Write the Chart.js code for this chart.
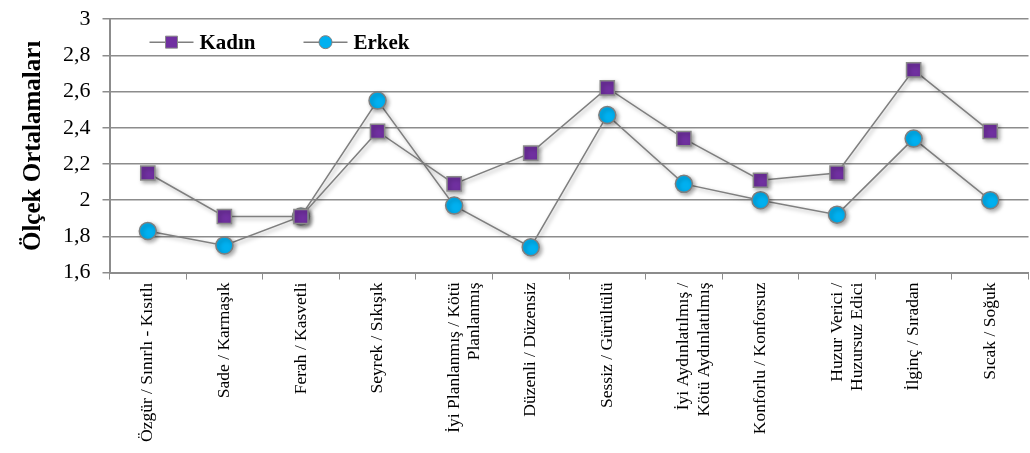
<!DOCTYPE html>
<html>
<head>
<meta charset="utf-8">
<script src="https://cdn.jsdelivr.net/npm/chart.js@4/dist/chart.umd.min.js"></script>
<style>
  html, body { margin: 0; padding: 0; background: #fff; overflow: hidden; }
  #wrap { width: 1040px; height: 453px; }
</style>
</head>
<body>
<div id="wrap"><canvas id="lineChart"></canvas></div>
<script>
// Categories (x axis)
const categories = [
    'Özgür / Sınırlı - Kısıtlı',
    'Sade / Karmaşık',
    'Ferah / Kasvetli',
    'Seyrek / Sıkışık',
    ['İyi Planlanmış / Kötü', 'Planlanmış'],
    'Düzenli / Düzensiz',
    'Sessiz / Gürültülü',
    ['İyi Aydınlatılmış /', 'Kötü Aydınlatılmış'],
    'Konforlu / Konforsuz',
    ['Huzur Verici /', 'Huzursuz Edici'],
    'İlginç / Sıradan',
    'Sıcak / Soğuk'
];

// Series values
const kadin = [2.15, 1.91, 1.91, 2.38, 2.09, 2.26, 2.62, 2.34, 2.11, 2.15, 2.72, 2.38];
const erkek = [1.83, 1.75, 1.91, 2.55, 1.97, 1.74, 2.47, 2.09, 2.00, 1.92, 2.34, 2.00];

// Y axis range
const yMin = 1.6;
const yMax = 3;
const yStep = 0.2;

const serif = "'Liberation Serif', 'Times New Roman', serif";
const gridGray = '#8c8c8c';

// soft shadow under lines and markers
const shadowPlugin = {
    id: 'shadow',
    beforeDatasetsDraw(chart) {
        const c = chart.ctx;
        c.save();
        c.shadowColor = 'rgba(0,0,0,0.35)';
        c.shadowBlur = 4;
        c.shadowOffsetX = 2;
        c.shadowOffsetY = 2;
    },
    afterDatasetsDraw(chart) {
        chart.ctx.restore();
    }
};

// legend drawn inside the plot area: line + marker + bold label
const insideLegend = {
    id: 'insideLegend',
    afterDraw(chart) {
        const c = chart.ctx;
        const area = chart.chartArea;
        const y = area.top + 23;
        let x = area.left + 40;
        chart.data.datasets.forEach(ds => {
            c.save();
            c.strokeStyle = ds.borderColor;
            c.lineWidth = 1.5;
            c.beginPath();
            c.moveTo(x, y);
            c.lineTo(x + 44, y);
            c.stroke();
            c.fillStyle = ds.pointBackgroundColor;
            c.strokeStyle = ds.pointBorderColor;
            c.lineWidth = 1;
            c.beginPath();
            if (ds.pointStyle === 'rect') {
                c.rect(x + 16, y - 6, 12, 12);
            } else {
                c.arc(x + 22, y, 6.5, 0, Math.PI * 2);
            }
            c.fill();
            c.stroke();
            c.fillStyle = '#000';
            c.font = 'bold 21px ' + serif;
            c.textBaseline = 'middle';
            c.fillText(ds.label, x + 50, y + 1);
            c.restore();
            x += 154;
        });
    }
};

const data = {
    labels: categories,
    datasets: [
        {
            label: 'Kadın',
            data: kadin,
            borderColor: '#7f7f7f',
            borderWidth: 1.5,
            pointStyle: 'rect',
            pointRadius: 10,
            pointBackgroundColor: '#7030a0',
            pointBorderColor: '#8a8a8a',
            pointBorderWidth: 1.5,
            tension: 0
        },
        {
            label: 'Erkek',
            data: erkek,
            borderColor: '#7f7f7f',
            borderWidth: 1.5,
            pointStyle: 'circle',
            pointRadius: 8.5,
            pointBackgroundColor: '#00b0f0',
            pointBorderColor: '#7f7f7f',
            pointBorderWidth: 1.5,
            tension: 0
        }
    ]
};

const config = {
    type: 'line',
    data: data,
    options: {
        responsive: true,
        maintainAspectRatio: false,
        animation: false,
        layout: { padding: { top: 0, right: 0, left: 15, bottom: 8 } },
        plugins: {
            legend: { display: false },
            tooltip: { enabled: false }
        },
        scales: {
            x: {
                offset: true,
                grid: {
                    display: true,
                    drawOnChartArea: false,
                    offset: true,
                    color: gridGray,
                    tickLength: 7,
                    lineWidth: 1
                },
                border: { color: gridGray, width: 2 },
                ticks: {
                    color: '#000',
                    minRotation: 90,
                    maxRotation: 90,
                    autoSkip: false,
                    padding: 3,
                    font: { family: serif, size: 17.5, lineHeight: 1.15 }
                }
            },
            y: {
                min: yMin,
                max: yMax,
                ticks: {
                    stepSize: yStep,
                    color: '#000',
                    padding: 12,
                    font: { family: serif, size: 22, lineHeight: 0.65 },
                    callback: v => {
                        const r = Math.round(v * 10) / 10;
                        return Number.isInteger(r) ? String(r) : r.toFixed(1).replace('.', ',');
                    }
                },
                grid: { color: gridGray, lineWidth: 1.5, tickLength: 7 },
                border: { color: gridGray, width: 2 },
                title: {
                    display: true,
                    text: 'Ölçek Ortalamaları',
                    color: '#000',
                    font: { family: serif, size: 25, weight: 'bold' },
                    padding: { bottom: 2 }
                }
            }
        }
    },
    plugins: [shadowPlugin, insideLegend]
};

new Chart(document.getElementById('lineChart').getContext('2d'), config);
</script>
</body>
</html>
